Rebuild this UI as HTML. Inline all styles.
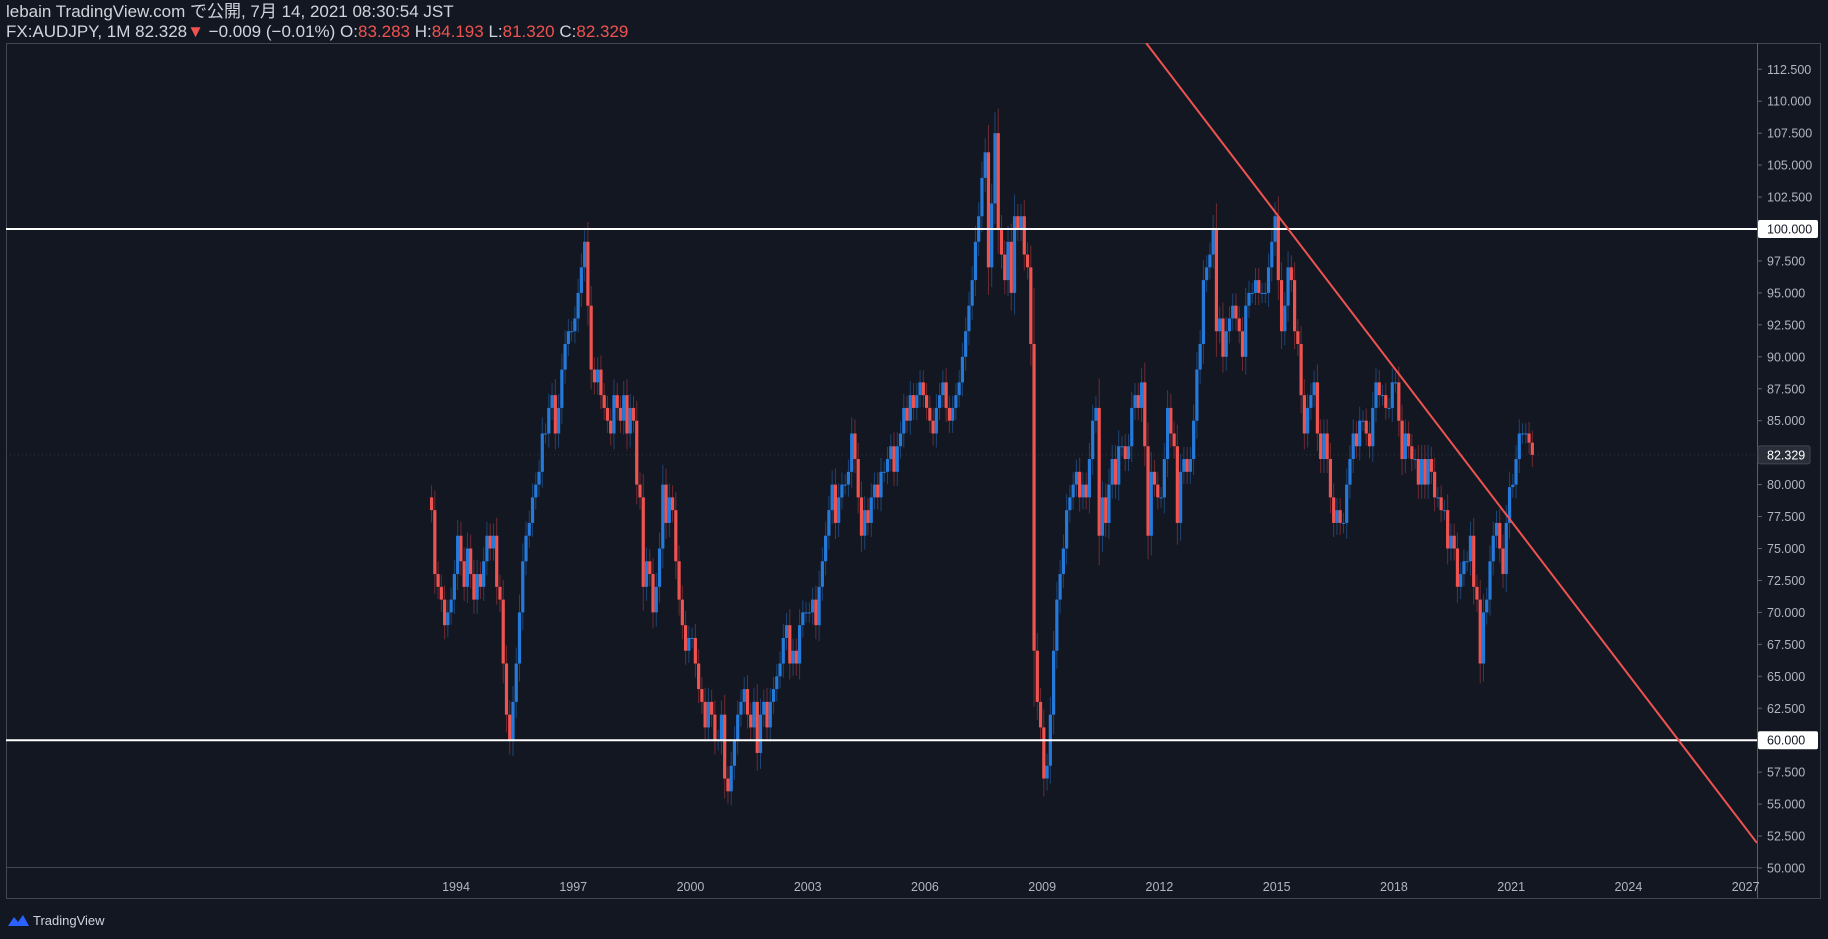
<!DOCTYPE html>
<html><head><meta charset="utf-8">
<style>
html,body{margin:0;padding:0;background:#131722;}
body{width:1828px;height:939px;overflow:hidden;font-family:"Liberation Sans","Noto Sans CJK JP",sans-serif;}
#hdr{position:absolute;left:6px;top:2px;color:#d1d4dc;font-size:17px;line-height:20px;}
.r{color:#ef5350;}
svg{position:absolute;left:0;top:0;}
</style></head><body>
<div id="hdr">
<div>lebain TradingView.com で公開, 7月 14, 2021 08:30:54 JST</div>
<div>FX:AUDJPY, 1M 82.328<span class="r">▼</span> −0.009 (−0.01%) O:<span class="r">83.283</span> H:<span class="r">84.193</span> L:<span class="r">81.320</span> C:<span class="r">82.329</span></div>
</div>
<svg id="chart" width="1828" height="939"></svg>
<script>
const startYear = 1993, startMonth = 4; // May 1993 (0-based)
const closes = [
78,73,72,71,69,70,71,73,
76,74,72,75,73,71,73,72,74,76,75,76,
72,71,66,62,60,63,66,70,74,76,77,79,
80,81,84,84,86,87,84,86,89,91,92,92,
93,95,97,99,94,89,88,89,87,86,85,84,
87,86,85,87,84,86,85,80,79,72,74,73,
70,72,75,80,77,79,78,74,71,69,67,68,
68,66,64,63,61,63,62,60,60,62,57,56,
58,60,62,63,64,62,61,63,59,62,63,61,
63,64,65,66,68,69,66,67,66,69,70,70,
70,71,69,72,74,76,78,80,77,79,80,80,
81,84,82,79,76,78,77,79,80,79,81,81,
82,83,81,83,84,86,85,87,86,87,88,87,
86,85,84,86,87,88,86,85,86,87,88,90,
92,94,96,99,101,104,106,97,102,107.5,100,98,
96,99,95,101,100,101,98,97,91,67,63,61,
57,58,62,67,71,73,75,78,79,80,81,79,
80,79,82,85,86,76,79,77,80,82,80,83,
83,82,83,86,87,86,88,83,76,81,80,79,
79,82,86,84,83,77,81,82,81,82,85,89,
91,96,97,98,100,92,93,90,92,93,94,93,
92,90,94,95,95,96,95,95,95,97,99,101,
96,92,94,97,96,92,91,87,84,86,87,88,
84,82,84,82,79,77,78,77,77,80,82,84,
83,85,85,84,83,86,88,87,87,86,86,88,
88,85,82,84,83,82,82,80,82,80,82,81,
79,79,78,78,75,76,75,72,73,74,74,76,
72,71,66,70,71,74,76,77,75,73,77,79.8,
80,82,84,84,84,83.283,82.329];
const firstOpen = 79;
const priceTicks = [50,52.5,55,57.5,60,62.5,65,67.5,70,72.5,75,77.5,80,82.5,85,87.5,90,92.5,95,97.5,100,102.5,105,107.5,110,112.5];
const yearTicks = [1994,1997,2000,2003,2006,2009,2012,2015,2018,2021,2024,2027];
const hLevels = [100,60];
const trend = [[2011.66,114.55],[2027.29,51.96]];
const lastPrice = 82.329;

const NS="http://www.w3.org/2000/svg", svg=document.getElementById('chart');
const y = p => 229 + (100-p)*12.78;
const x = t => 456 + (t-1994)*39.08;
function el(tag, at, parent){const e=document.createElementNS(NS,tag);for(const k in at)e.setAttribute(k,at[k]);(parent||svg).appendChild(e);return e;}
const plotL=6, plotR=1757, plotT=43, plotB=898;
const clip=el('clipPath',{id:'pc'});el('rect',{x:plotL,y:plotT,width:plotR-plotL,height:plotB-plotT-30},clip);
const clip2=el('clipPath',{id:'pc2'});el('rect',{x:plotL,y:plotT,width:plotR-plotL,height:plotB-plotT-30},clip2);
const frame=el('rect',{x:plotL+0.5,y:plotT+0.5,width:1820-plotL,height:plotB-plotT,fill:'none',stroke:'#434651','stroke-width':1});


const ax=el('line',{x1:plotR+0.5,y1:plotT,x2:plotR+0.5,y2:plotB,stroke:'#5d606b'});


const tx=el('line',{x1:plotL,y1:plotB-30.5,x2:plotR,y2:plotB-30.5,stroke:'#434651'});


priceTicks.forEach(p=>{
  const g=el('g',{});
  
  
  el('line',{x1:plotR,x2:plotR+5,y1:y(p),y2:y(p),stroke:'#5d606b'},g);
  const t=el('text',{x:plotR+10,y:y(p)+4.5,fill:'#b2b5be','font-size':12.5,'font-family':'Liberation Sans, sans-serif'},g);
  t.textContent=p.toFixed(3);
});
yearTicks.forEach(yr=>{
  const t=el('text',{x:x(yr),y:891,fill:'#b2b5be','font-size':12.5,'text-anchor':'middle','font-family':'Liberation Sans, sans-serif'});
  
  
  t.textContent=yr;
});
const dl=el('line',{x1:plotL,x2:plotR,y1:y(lastPrice),y2:y(lastPrice),stroke:'#363a45','stroke-dasharray':'1 3'});


const cg=el('g',{'clip-path':'url(#pc)'});


let prev=firstOpen;
closes.forEach((c,i)=>{
  const o=prev; prev=c;
  const m=startMonth+i, t=startYear+Math.floor(m/12)+((m%12)+0.5)/12;
  const cx=x(t), up=c>=o;
  const hi=Math.max(o,c)+0.15*Math.abs(c-o)+0.8, lo=Math.min(o,c)-0.15*Math.abs(c-o)-0.8;
  const g=el('g',{},cg);
  
  
  el('line',{x1:cx,x2:cx,y1:y(hi),y2:y(lo),stroke:up?'#1d4473':'#6e2a32','stroke-width':1},g);
  const top=y(Math.max(o,c)), bot=y(Math.min(o,c));
  el('rect',{x:cx-1.6,y:top,width:3.2,height:Math.max(1,bot-top),fill:up?'#2479d9':'#ef5350'},g);
});
hLevels.forEach(p=>{
  const l=el('line',{x1:plotL,x2:plotR,y1:y(p),y2:y(p),stroke:'#ffffff','stroke-width':2});
  
  
  const r=el('rect',{x:plotR+1,y:y(p)-9,width:60,height:18,fill:'#ffffff',rx:2});
  
  
  const t=el('text',{x:plotR+10,y:y(p)+4.5,fill:'#131722','font-size':12.5,'font-family':'Liberation Sans, sans-serif'});
  t.textContent=p.toFixed(3);
});
const tl=el('line',{x1:x(trend[0][0]),y1:y(trend[0][1]),x2:x(trend[1][0]),y2:y(trend[1][1]),stroke:'#ef5350','stroke-width':2,'clip-path':'url(#pc2)'});


const lr=el('rect',{x:plotR+1,y:y(lastPrice)-9,width:52,height:18,fill:'#2a2e39',stroke:'#434651',rx:2});


const lt=el('text',{x:plotR+10,y:y(lastPrice)+4.5,fill:'#ffffff','font-size':12.5,'font-family':'Liberation Sans, sans-serif'});
lt.textContent=lastPrice.toFixed(3);
const lg=el('g',{});


el('path',{d:'M8 926 l6 -9 l4 5 l5 -7 l6 11 z',fill:'#2962ff'},lg);
const lgt=el('text',{x:33,y:925,fill:'#d1d4dc','font-size':13,'font-family':'Liberation Sans, sans-serif'},lg);
lgt.textContent='TradingView';
</script>
</body></html>
